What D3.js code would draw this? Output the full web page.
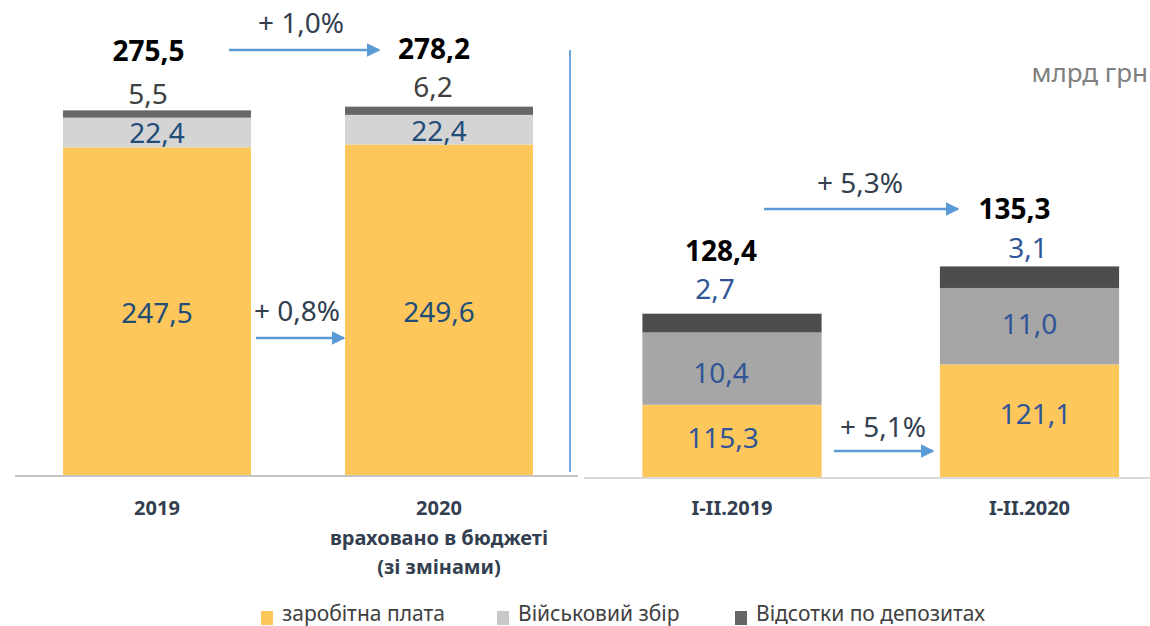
<!DOCTYPE html>
<html><head><meta charset="utf-8">
<script src="https://cdn.jsdelivr.net/npm/d3@7"></script>
<style>body{margin:0;background:#fff}svg{display:block}</style>
</head><body><svg id="c" width="1150" height="626"></svg>
<script>
// ---- data ----
const leftCats = ["2019", "2020"];
const leftWages = [247.5, 249.6];
const leftMilitary = [22.4, 22.4];
const leftDeposits = [5.5, 6.2];
const leftTotals = ["275,5", "278,2"];
const leftGrowthTotal = "+ 1,0%";
const leftGrowthWages = "+ 0,8%";

const rightCats = ["I-II.2019", "I-II.2020"];
const rightWages = [115.3, 121.1];
const rightMilitary = [10.4, 11.0];
const rightDeposits = [2.7, 3.1];
const rightTotals = ["128,4", "135,3"];
const rightGrowthTotal = "+ 5,3%";
const rightGrowthWages = "+ 5,1%";

const legendLabels = ["заробітна плата", "Військовий збір", "Відсотки по депозитах"];
const unitLabel = "млрд грн";
const leftSubLabel = ["враховано в бюджеті", "(зі змінами)"];

const fmt = v => d3.format(".1f")(v).replace(".", ",");

const svg = d3.select("#c");
const FONT = "'Noto Sans', 'Open Sans', sans-serif";

svg.append("defs").append("marker").attr("id", "arr")
  .attr("viewBox", "0 0 10 10").attr("refX", 9).attr("refY", 5)
  .attr("markerWidth", 5.5).attr("markerHeight", 5.5).attr("orient", "auto")
  .append("path").attr("d", "M0,0L10,5L0,10Z").attr("fill", "#5b9bd5");

function panel(cfg) {
  const x = d3.scaleBand().domain(cfg.cats).range(cfg.xr).paddingInner(cfg.pi).paddingOuter(cfg.pi / 2);
  const y = d3.scaleLinear().domain(cfg.yd).range(cfg.yr);
  const g = svg.append("g");
  g.append("line").attr("x1", cfg.axisX[0]).attr("x2", cfg.axisX[1])
    .attr("y1", y(cfg.yd[0]) + 1).attr("y2", y(cfg.yd[0]) + 1)
    .attr("stroke", cfg.axisColor).attr("stroke-width", 2);
  const series = [cfg.wages, cfg.military, cfg.deposits];
  cfg.cats.forEach((c, i) => {
    let cum = 0;
    const cx0 = x(c) + x.bandwidth() / 2;
    series.forEach((s, k) => {
      const lo = k === 0 ? cfg.yd[0] : cum;
      cum = (k === 0 ? s[i] : cum + s[i]);
      g.append("rect").attr("x", x(c)).attr("width", x.bandwidth())
        .attr("y", y(cum)).attr("height", y(lo) - y(cum))
        .attr("fill", cfg.colors[k]);
      const off = cfg.labelOff[k][i];
      const ly = (k < 2 ? (y(lo) + y(cum)) / 2 : y(cum)) + off[1];
      g.append("text").attr("x", cx0 + off[0]).attr("y", ly).attr("text-anchor", "middle")
        .attr("dominant-baseline", "central")
        .attr("font-family", FONT).attr("font-size", 28)
        .attr("fill", cfg.labelColors[k]).text(fmt(s[i]));
    });
    const to = cfg.totalOff[i];
    g.append("text").attr("x", cx0 + to[0]).attr("y", y(cum) + to[1])
      .attr("text-anchor", "middle").attr("dominant-baseline", "central")
      .attr("font-family", FONT).attr("font-weight", "bold").attr("font-size", 28)
      .attr("fill", "#000").text(cfg.totals[i]);
    g.append("text").attr("x", cx0).attr("y", 507)
      .attr("text-anchor", "middle").attr("dominant-baseline", "central")
      .attr("font-family", FONT).attr("font-weight", "bold").attr("font-size", 20)
      .attr("fill", "#333f50").text(c);
  });
  return { x, y, g };
}

const L = panel({
  cats: leftCats, wages: leftWages, military: leftMilitary, deposits: leftDeposits, totals: leftTotals,
  xr: [16, 580], pi: 0.3333, yd: [0, 300], yr: [475, 77.8], axisX: [15, 578], axisColor: "#c4c4c4",
  colors: ["#fec75b", "#d4d4d4", "#676767"],
  labelColors: ["#1f4e79", "#1f4e79", "#404040"],
  labelOff: [[[0, 1], [0, 1]], [[0, 0], [0, 0]], [[-9, -17], [-6, -20.5]]],
  totalOff: [[-8.5, -60], [-5, -59]]
});
const R = panel({
  cats: rightCats, wages: rightWages, military: rightMilitary, deposits: rightDeposits, totals: rightTotals,
  xr: [583.25, 1178.25], pi: 0.3977, yd: [104.9, 140], yr: [477, 233.06], axisX: [584, 1150], axisColor: "#dadada",
  colors: ["#fec75b", "#a6a6a6", "#4d4d4d"],
  labelColors: ["#2f5597", "#2f5597", "#2f5597"],
  labelOff: [[[-9, -4], [6, -7.5]], [[-11, 3], [0, -3]], [[-17, -25.7], [-1.5, -19.7]]],
  totalOff: [[-11, -63.7], [-15, -58.7]]
});

leftSubLabel.forEach((t, i) => {
  svg.append("text").attr("x", L.x("2020") + L.x.bandwidth() / 2).attr("y", 537 + i * 29)
    .attr("text-anchor", "middle").attr("dominant-baseline", "central")
    .attr("font-family", FONT).attr("font-weight", "bold").attr("font-size", 20)
    .attr("fill", "#333f50").text(t);
});

function arrow(x1, x2, yy, label, lx, ly) {
  svg.append("line").attr("x1", x1).attr("x2", x2).attr("y1", yy).attr("y2", yy)
    .attr("stroke", "#5b9bd5").attr("stroke-width", 2.5).attr("marker-end", "url(#arr)");
  svg.append("text").attr("x", lx).attr("y", ly).attr("text-anchor", "middle")
    .attr("dominant-baseline", "central").attr("font-family", FONT).attr("font-size", 28)
    .attr("fill", "#333f50").text(label);
}
arrow(229, 379, 50, leftGrowthTotal, 301, 22);
arrow(256, 344, 338, leftGrowthWages, 297, 310);
arrow(764, 958, 209, rightGrowthTotal, 860, 182);
arrow(834, 933, 451, rightGrowthWages, 883, 426);

svg.append("line").attr("x1", 570).attr("x2", 570).attr("y1", 50).attr("y2", 472)
  .attr("stroke", "#6fa6dc").attr("stroke-width", 2);

svg.append("text").attr("x", 1148).attr("y", 82).attr("text-anchor", "end")
  .attr("font-family", FONT).attr("font-size", 26)
  .attr("fill", "#808080").text(unitLabel);

const legColors = ["#fec75b", "#c8c8c8", "#666666"];
const legX = [261, 497, 735];
legendLabels.forEach((t, i) => {
  svg.append("rect").attr("x", legX[i]).attr("y", 611).attr("width", 12).attr("height", 14).attr("fill", legColors[i]);
  svg.append("text").attr("x", legX[i] + 21).attr("y", 621)
    .attr("font-family", FONT).attr("font-size", 21).attr("fill", "#404040").text(t);
});
</script></body></html>
